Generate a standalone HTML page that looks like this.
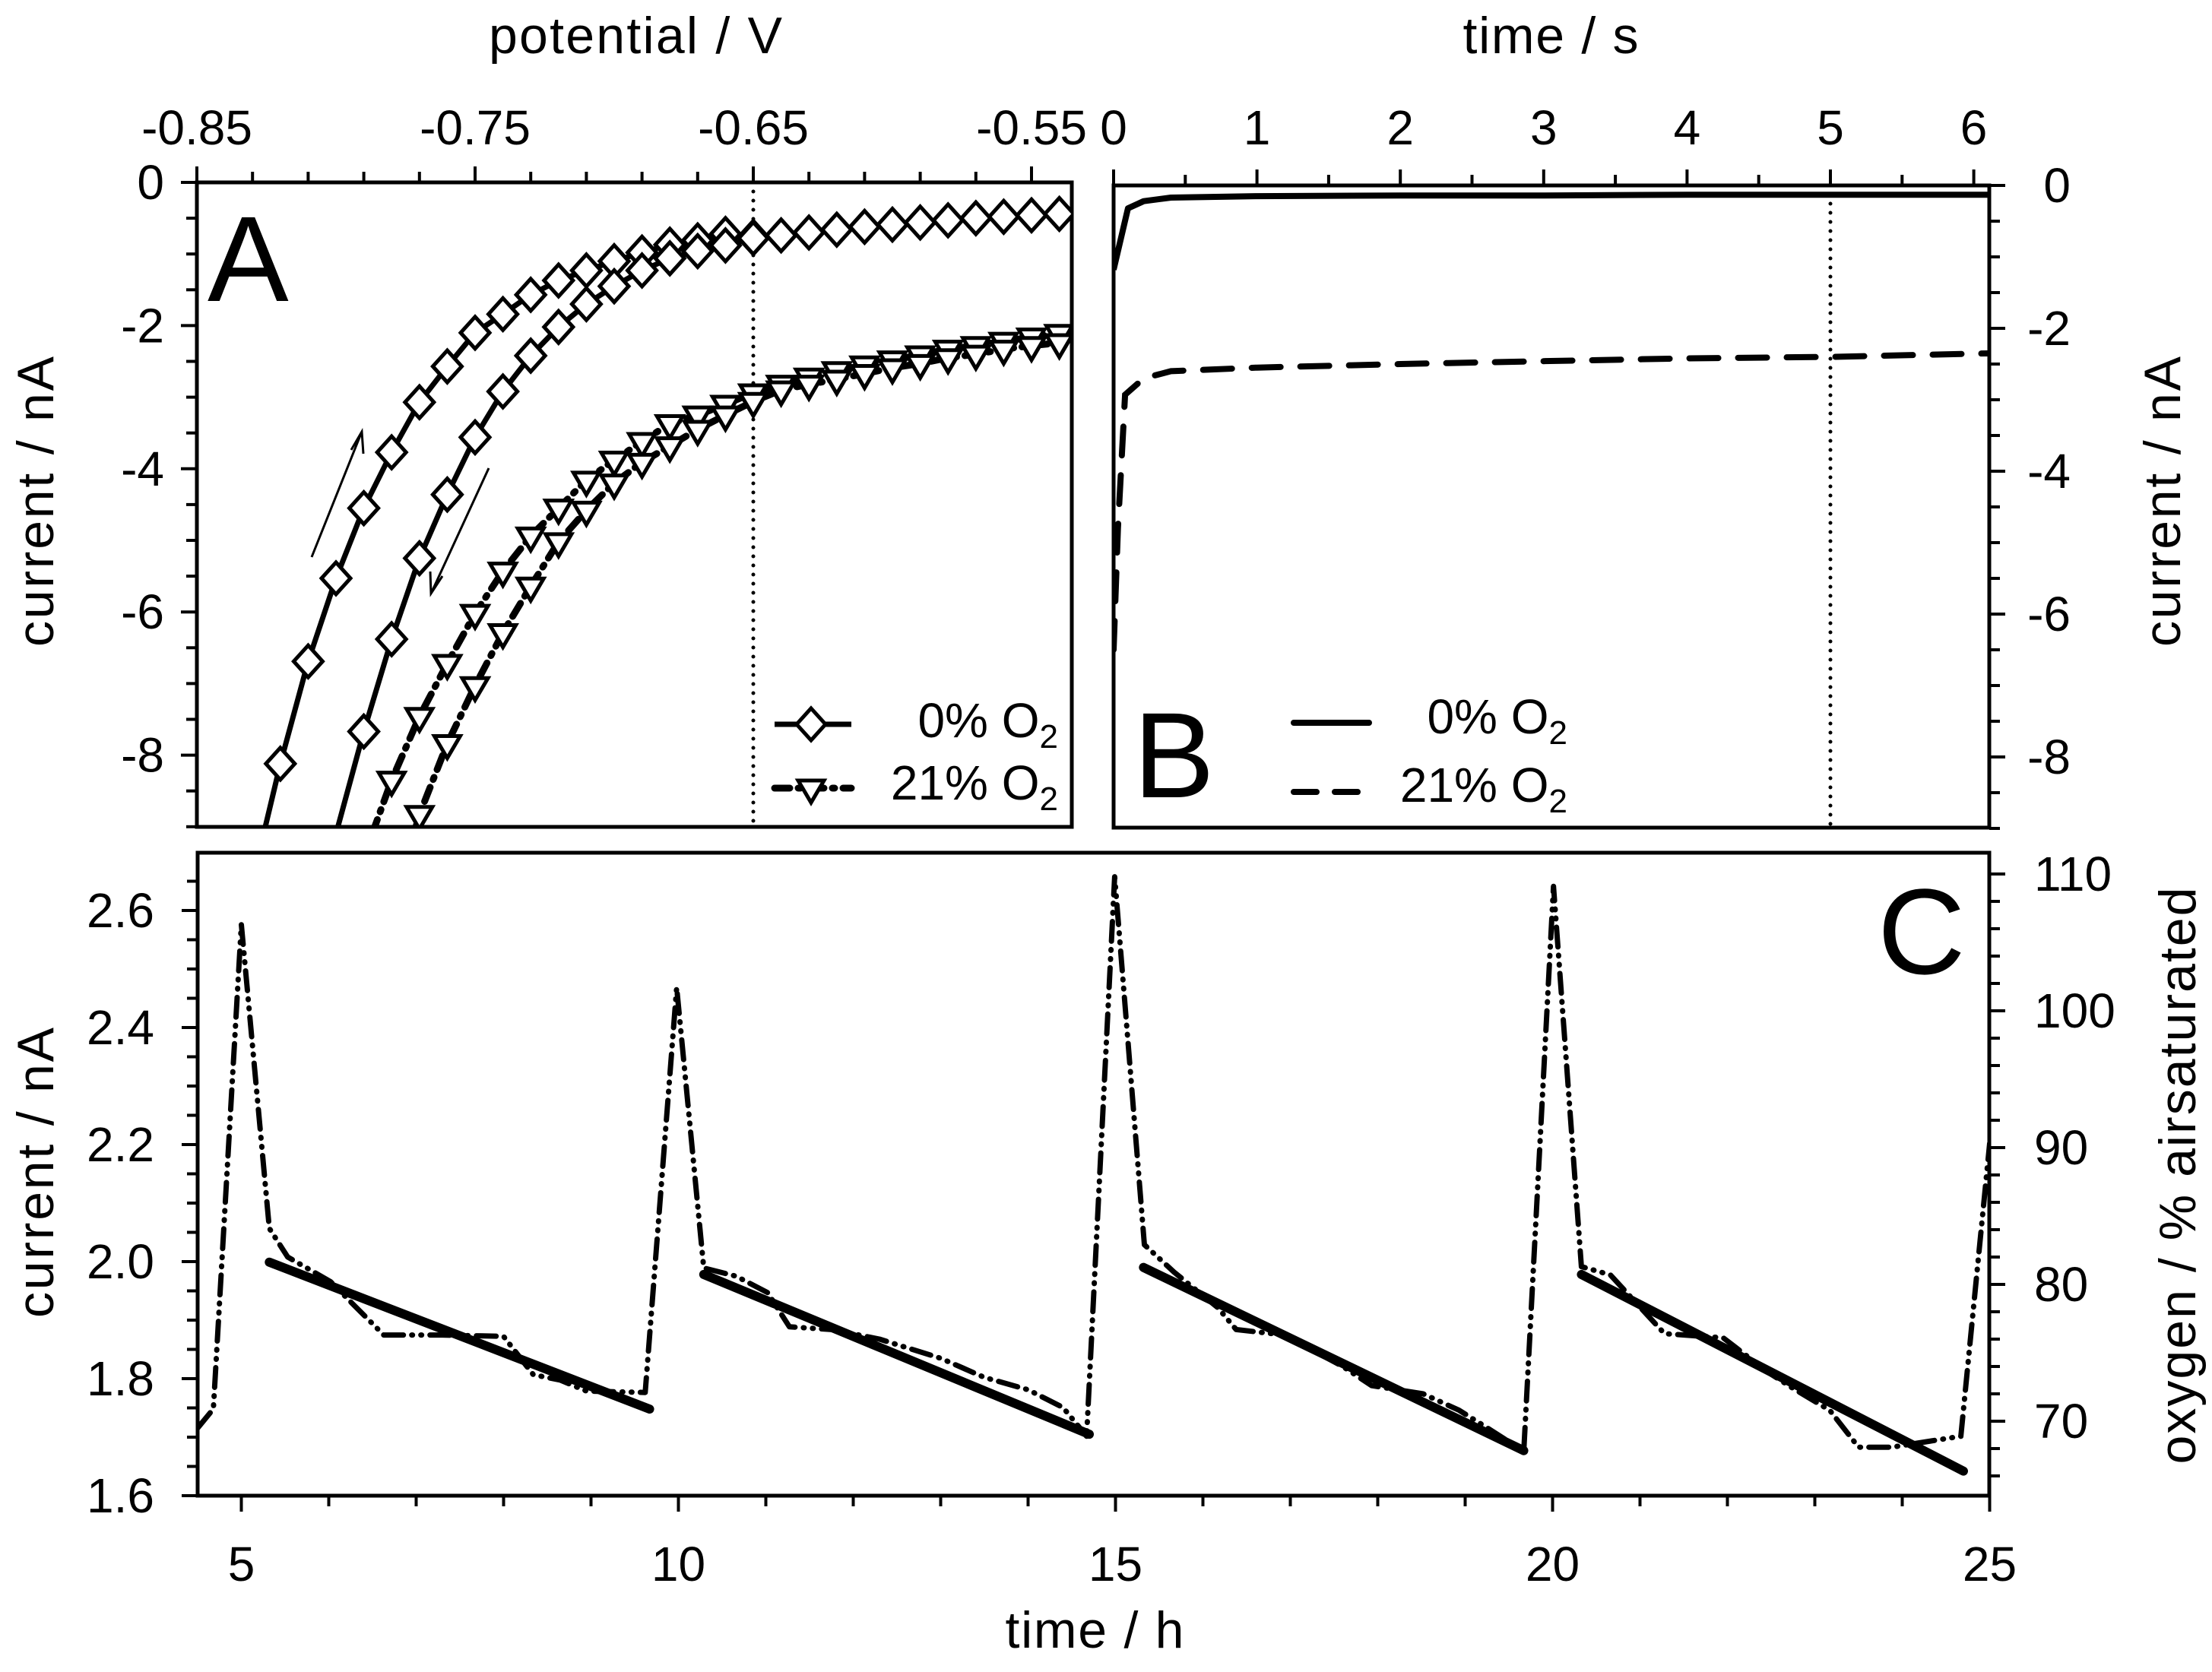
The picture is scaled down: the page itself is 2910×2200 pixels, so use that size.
<!DOCTYPE html>
<html><head><meta charset="utf-8"><style>
html,body{margin:0;padding:0;background:#fff;}
svg{display:block;}
text{font-family:"Liberation Sans Narrow","Liberation Sans",sans-serif;fill:#000;}
</style></head><body>
<svg id="chart" xmlns="http://www.w3.org/2000/svg" width="2910" height="2200" viewBox="0 0 2910 2200">
<rect x="0" y="0" width="2910" height="2200" fill="#fff"/>
<defs>
<clipPath id="clipA"><rect x="259" y="240" width="1151" height="848"/></clipPath>
<clipPath id="clipB"><rect x="1465" y="244" width="1152" height="845"/></clipPath>
<clipPath id="clipC"><rect x="260" y="1122" width="2357" height="846"/></clipPath>
</defs>
<g id="root"></g>
</svg>
<script>
// ---------- Panel A data ----------
const aDiamFwdV = [-0.826,-0.82,-0.81,-0.80,-0.79,-0.78,-0.77,-0.76,-0.75,-0.74,-0.73,-0.72,-0.71,-0.70,-0.69,-0.68,-0.67,-0.66,-0.65,-0.64,-0.63,-0.62,-0.61,-0.60,-0.59,-0.58,-0.57,-0.56,-0.55,-0.54];
const aDiamFwdI = [-9.1,-8.12,-6.69,-5.53,-4.55,-3.77,-3.07,-2.57,-2.10,-1.84,-1.57,-1.37,-1.23,-1.10,-0.98,-0.87,-0.81,-0.72,-0.76,-0.74,-0.70,-0.66,-0.62,-0.59,-0.56,-0.53,-0.50,-0.48,-0.46,-0.44];
const aDiamRevV = [-0.80,-0.79,-0.78,-0.77,-0.76,-0.75,-0.74,-0.73,-0.72,-0.71,-0.70,-0.69,-0.68,-0.67,-0.66,-0.65];
const aDiamRevI = [-9.1,-7.67,-6.38,-5.25,-4.36,-3.56,-2.92,-2.42,-2.02,-1.70,-1.45,-1.23,-1.06,-0.96,-0.88,-0.78];
const aTriFwdV = [-0.787,-0.78,-0.77,-0.76,-0.75,-0.74,-0.73,-0.72,-0.71,-0.70,-0.69,-0.68,-0.67,-0.66,-0.65,-0.64,-0.63,-0.62,-0.61,-0.60,-0.59,-0.58,-0.57,-0.56,-0.55,-0.54];
const aTriFwdI = [-9.1,-8.35,-7.46,-6.72,-6.02,-5.43,-4.94,-4.55,-4.16,-3.88,-3.62,-3.37,-3.25,-3.10,-2.94,-2.82,-2.72,-2.63,-2.55,-2.48,-2.41,-2.33,-2.28,-2.22,-2.16,-2.11];
const aTriRevV = [-0.772,-0.77,-0.76,-0.75,-0.74,-0.73,-0.72,-0.71,-0.70,-0.69,-0.68,-0.67,-0.66,-0.65,-0.64,-0.63,-0.62,-0.61,-0.60,-0.59,-0.58,-0.57,-0.56,-0.55,-0.54];
const aTriRevI = [-9.1,-8.83,-7.84,-7.03,-6.29,-5.64,-5.02,-4.58,-4.20,-3.91,-3.68,-3.45,-3.25,-3.06,-2.90,-2.82,-2.75,-2.67,-2.59,-2.53,-2.45,-2.40,-2.33,-2.28,-2.24];
const aXTicks = ["-0.85","-0.75","-0.65","-0.55"];
const aXTickVals = [-0.85,-0.75,-0.65,-0.55];
const aYTickVals = [0,-2,-4,-6,-8];
const aYTicks = ["0","-2","-4","-6","-8"];
// ---------- Panel B data ----------
const bSolidT = [0,0.10,0.21,0.4,1,2,3,4,5,6.12];
const bSolidI = [-1.18,-0.32,-0.22,-0.17,-0.15,-0.14,-0.14,-0.13,-0.13,-0.13];
const bDashT = [0,0.03,0.08,0.21,0.4,1,2,3,4,5,6.12];
const bDashI = [-6.5,-4.8,-2.93,-2.70,-2.60,-2.55,-2.50,-2.46,-2.42,-2.40,-2.35];
const bXTicks = ["0","1","2","3","4","5","6"];
const bYTicks = ["0","-2","-4","-6","-8"];
// ---------- Panel C data ----------
const cFitStartH = [5.32,10.29,15.32,20.33];
const cFitStartI = [1.999,1.978,1.990,1.978];
const cFitEndH = [9.67,14.70,19.67,24.70];
const cFitEndI = [1.748,1.705,1.677,1.642];
const cO2H = [4.5,4.68,5.0,5.32,5.53,6.02,6.63,7.3,8.0,8.34,8.65,8.95,9.62,9.98,10.29,10.66,11.02,11.27,11.75,12.3,13.0,13.5,14.0,14.4,14.67,14.99,15.33,15.67,16.17,16.38,16.93,17.6,17.93,18.52,18.93,19.23,19.67,20.01,20.33,20.66,21.28,21.95,22.46,22.75,23.17,23.5,23.88,24.67,25.0];
const cO2Val = [69.5,70.9,106.3,84.1,82.0,80.2,76.3,76.3,76.2,73.4,73.0,72.2,72.1,101.7,81.2,80.6,79.4,76.9,76.7,76.0,74.6,73.2,72.3,71.0,68.9,109.8,82.9,80.9,78.3,76.7,76.3,74.0,72.6,72.0,70.8,69.6,67.8,109.1,81.3,80.7,76.4,76.1,73.6,72.4,70.8,68.1,68.1,68.9,90.3];
const cXTicks = ["5","10","15","20","25"];
const cYTicks = ["1.6","1.8","2.0","2.2","2.4","2.6"];
const cY2Ticks = ["70","80","90","100","110"];

// ---------- scales ----------
const ax = v => 259 + (v + 0.85) * 3660;
const ay = i => 240 - i * 94.2;
const bx = t => 1465 + t * 188.6;
const by = i => 244 - i * 94;
const cx = h => 260 + (h - 4.5) * 115;
const cy = c => 1968 - (c - 1.6) * 770;
const oy = o => 1870 - (o - 70) * 18;

const NS = "http://www.w3.org/2000/svg";
const root = document.getElementById("root");
function mk(tag, attrs, parent) {
  const e = document.createElementNS(NS, tag);
  for (const k in attrs) e.setAttribute(k, attrs[k]);
  (parent || root).appendChild(e);
  return e;
}
function txt(x, y, s, size, anchor, parent) {
  const t = mk("text", {x: x, y: y, "font-size": size, "text-anchor": anchor || "middle"}, parent);
  t.textContent = s;
  return t;
}
function pts(xs, ys, fx, fy) { return xs.map((v, k) => fx(v).toFixed(1) + "," + fy(ys[k]).toFixed(1)).join(" "); }

// ================= PANEL A =================
const gA = mk("g", {});


const frA = mk("rect", {x: 259, y: 240, width: 1151, height: 848, fill: "none", stroke: "#000", "stroke-width": 5}, gA);


for (let k = 0; k <= 15; k++) {
  const v = -0.85 + k * 0.02;
  const major = (k % 5 === 0);
  const tk = mk("line", {x1: ax(v), x2: ax(v), y1: 240, y2: 240 - (major ? 21 : 14), stroke: "#000", "stroke-width": 4}, gA);
  
  
}
aXTickVals.forEach((v, k) => {
  const t = txt(ax(v), 190, aXTicks[k], 64, "middle", gA);
  
  
});
for (let k = 0; k <= 18; k++) {
  const i = -k * 0.5;
  const tk = mk("line", {x1: 259, x2: 259 - (k % 4 === 0 ? 21 : 14), y1: ay(i), y2: ay(i), stroke: "#000", "stroke-width": 4}, gA);
  
  
}
aYTickVals.forEach((v, k) => {
  const t = txt(216, ay(v) + 22, aYTicks[k], 64, "end", gA);
  
  
});
const tA1 = txt(836, 70, "potential / V", 68, "middle", gA);


tA1.setAttribute("textLength", "386");
const tA2 = txt(0, 0, "current / nA", 68, "middle", gA);
tA2.setAttribute("transform", "translate(70,660) rotate(-90)");
tA2.setAttribute("textLength", "382");


const dotA = mk("line", {x1: ax(-0.65), x2: ax(-0.65), y1: 240, y2: 1088, stroke: "#000", "stroke-width": 5, "stroke-dasharray": "0 12", "stroke-linecap": "round"}, gA);


const lblA = txt(273, 396, "A", 160, "start", gA);



const gAc = mk("g", {"clip-path": "url(#clipA)"}, gA);
const triDash = "20 11 3 11";
const l1 = mk("polyline", {points: pts(aDiamFwdV, aDiamFwdI, ax, ay), fill: "none", stroke: "#000", "stroke-width": 7, "stroke-linejoin": "round"}, gAc);


const l2 = mk("polyline", {points: pts(aDiamRevV, aDiamRevI, ax, ay), fill: "none", stroke: "#000", "stroke-width": 7, "stroke-linejoin": "round"}, gAc);


const l3 = mk("polyline", {points: pts(aTriFwdV, aTriFwdI, ax, ay), fill: "none", stroke: "#000", "stroke-width": 9, "stroke-dasharray": triDash, "stroke-linecap": "round"}, gAc);


const l4 = mk("polyline", {points: pts(aTriRevV, aTriRevI, ax, ay), fill: "none", stroke: "#000", "stroke-width": 9, "stroke-dasharray": triDash, "stroke-linecap": "round"}, gAc);


function diamond(x, y, parent) {
  return mk("polygon", {points: `${x},${y-21} ${x+19},${y} ${x},${y+21} ${x-19},${y}`, fill: "#fff", stroke: "#000", "stroke-width": 5}, parent);
}
function tri(x, y, parent) {
  return mk("polygon", {points: `${x-17},${y-10} ${x+17},${y-10} ${x},${y+19}`, fill: "#fff", stroke: "#000", "stroke-width": 5}, parent);
}
[[aTriFwdV, aTriFwdI], [aTriRevV, aTriRevI]].forEach(([V, I]) => {
  V.forEach((v, k) => { if (k === 0) return;
    const m = tri(ax(v), ay(I[k]), gAc);
    
    
  });
});
[[aDiamFwdV, aDiamFwdI], [aDiamRevV, aDiamRevI]].forEach(([V, I]) => {
  V.forEach((v, k) => { if (k === 0) return;
    const m = diamond(ax(v), ay(I[k]), gAc);
    
    
  });
});
const ar1 = mk("path", {d: "M410,733 L476,568 M462,592 L476,568 L478,597", fill: "none", stroke: "#000", "stroke-width": 3}, gA);


const ar2 = mk("path", {d: "M643,616 L567,781 M566,752 L567,781 L582,758", fill: "none", stroke: "#000", "stroke-width": 3}, gA);


const lgA = mk("g", {}, gA);


mk("line", {x1: 1019, x2: 1120, y1: 953, y2: 953, stroke: "#000", "stroke-width": 7}, lgA);
diamond(1067, 953, lgA);
mk("line", {x1: 1019, x2: 1120, y1: 1037, y2: 1037, stroke: "#000", "stroke-width": 9, "stroke-dasharray": triDash, "stroke-linecap": "round"}, lgA);
tri(1067, 1037, lgA);
function o2label(x, y, pre, parent) {
  const t = mk("text", {x: x, y: y, "font-size": 64, "text-anchor": "end"}, parent);
  const a = mk("tspan", {}, t); a.textContent = pre + "O";
  const b = mk("tspan", {dy: 14, "font-size": 44}, t); b.textContent = "2";
  return t;
}
const la1 = o2label(1392, 970, "0% ", lgA);


const la2 = o2label(1392, 1052, "21% ", lgA);



// ================= PANEL B =================
const gB = mk("g", {});


const frB = mk("rect", {x: 1465, y: 244, width: 1152, height: 845, fill: "none", stroke: "#000", "stroke-width": 5}, gB);


for (let k = 0; k <= 12; k++) {
  const t = k * 0.5;
  const tk = mk("line", {x1: bx(t), x2: bx(t), y1: 244, y2: 244 - (k % 2 === 0 ? 21 : 14), stroke: "#000", "stroke-width": 4}, gB);
  
  
}
bXTicks.forEach((s, k) => {
  const t = txt(bx(k), 190, s, 64, "middle", gB);
  
  
});
for (let k = 0; k <= 18; k++) {
  const i = -k * 0.5;
  const tk = mk("line", {x1: 2617, x2: 2617 + (k % 4 === 0 ? 21 : 14), y1: by(i), y2: by(i), stroke: "#000", "stroke-width": 4}, gB);
  
  
}
bYTicks.forEach((s, k) => {
  const t = txt(2724, by(-2 * k) + 22, s, 64, "end", gB);
  
  
});
const tB1 = txt(2040, 70, "time / s", 68, "middle", gB);
tB1.setAttribute("textLength", "231");


const tB2 = txt(0, 0, "current / nA", 68, "middle", gB);
tB2.setAttribute("transform", "translate(2868,660) rotate(-90)");
tB2.setAttribute("textLength", "382");


const dotB = mk("line", {x1: bx(5), x2: bx(5), y1: 244, y2: 1089, stroke: "#000", "stroke-width": 5, "stroke-dasharray": "0 12", "stroke-linecap": "round"}, gB);


const gBc = mk("g", {"clip-path": "url(#clipB)"}, gB);
const bs = mk("polyline", {points: pts(bSolidT, bSolidI, bx, by), fill: "none", stroke: "#000", "stroke-width": 8, "stroke-linejoin": "round"}, gBc);


const bd = mk("polyline", {points: pts(bDashT, bDashI, bx, by), fill: "none", stroke: "#000", "stroke-width": 8, "stroke-dasharray": "38 26", "stroke-linecap": "round"}, gBc);


const lblB = txt(1491, 1049, "B", 160, "start", gB);


const lgB = mk("g", {}, gB);


mk("line", {x1: 1702, x2: 1801, y1: 951, y2: 951, stroke: "#000", "stroke-width": 8, "stroke-linecap": "round"}, lgB);
mk("line", {x1: 1702, x2: 1801, y1: 1042, y2: 1042, stroke: "#000", "stroke-width": 8, "stroke-dasharray": "30 24", "stroke-linecap": "round"}, lgB);
const lb1 = o2label(2062, 965, "0% ", lgB);


const lb2 = o2label(2062, 1055, "21% ", lgB);



// ================= PANEL C =================
const gC = mk("g", {});


const frC = mk("rect", {x: 260, y: 1122, width: 2357, height: 846, fill: "none", stroke: "#000", "stroke-width": 5}, gC);


for (let h = 5; h <= 25; h++) {
  const tk = mk("line", {x1: cx(h), x2: cx(h), y1: 1968, y2: 1968 + (h % 5 === 0 ? 21 : 14), stroke: "#000", "stroke-width": 4}, gC);
  
  
}
cXTicks.forEach((s, k) => {
  const t = txt(cx(5 + 5 * k), 2080, s, 64, "middle", gC);
  
  
});
for (let k = 0; k <= 21; k++) {
  const c = 1.6 + k * 0.05;
  const tk = mk("line", {x1: 260, x2: 260 - (k % 4 === 0 ? 21 : 14), y1: cy(c), y2: cy(c), stroke: "#000", "stroke-width": 4}, gC);
  
  
}
cYTicks.forEach((s, k) => {
  const t = txt(203, cy(1.6 + 0.2 * k) + 22, s, 64, "end", gC);
  
  
});
for (let o = 66; o <= 110; o += 2) {
  const tk = mk("line", {x1: 2617, x2: 2617 + (o % 10 === 0 ? 21 : 14), y1: oy(o), y2: oy(o), stroke: "#000", "stroke-width": 4}, gC);
  
  
}
cY2Ticks.forEach((s, k) => {
  const t = txt(2676, oy(70 + 10 * k) + 22, s, 64, "start", gC);
  
  
});
const tC1 = txt(1440, 2168, "time / h", 68, "middle", gC);
tC1.setAttribute("textLength", "235");


const tC2 = txt(0, 0, "current / nA", 68, "middle", gC);
tC2.setAttribute("transform", "translate(70,1543) rotate(-90)");
tC2.setAttribute("textLength", "382");


const tC3 = txt(0, 0, "oxygen / % airsaturated", 68, "middle", gC);
tC3.setAttribute("transform", "translate(2888,1547) rotate(-90)");
tC3.setAttribute("textLength", "759");


const lblC = txt(2470, 1281, "C", 160, "start", gC);


const gCc = mk("g", {"clip-path": "url(#clipC)"}, gC);
const ox = mk("polyline", {points: pts(cO2H, cO2Val, cx, oy), fill: "none", stroke: "#000", "stroke-width": 7, "stroke-dasharray": "26 11 1 11 1 11", "stroke-linecap": "round", "stroke-linejoin": "round"}, gCc);


cFitStartH.forEach((h, k) => {
  const l = mk("line", {x1: cx(h), y1: cy(cFitStartI[k]), x2: cx(cFitEndH[k]), y2: cy(cFitEndI[k]), stroke: "#000", "stroke-width": 12, "stroke-linecap": "round"}, gCc);
  
  
});
</script>
</body></html>
